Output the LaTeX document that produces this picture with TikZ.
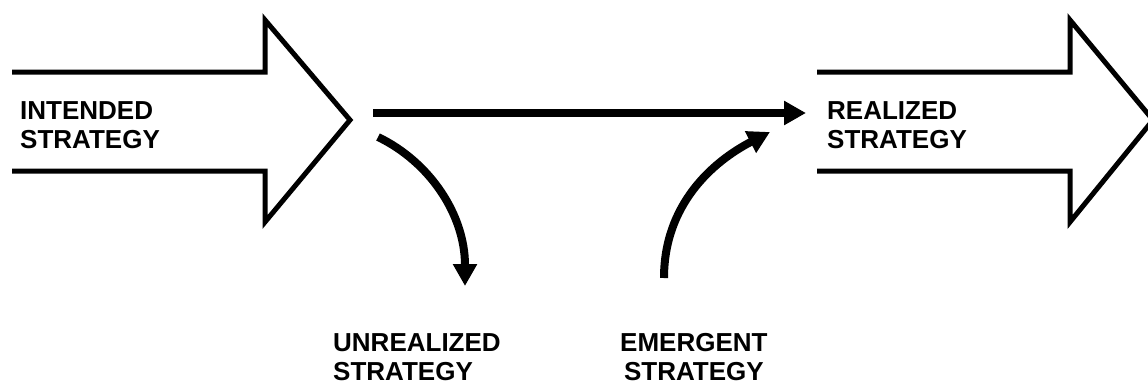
\documentclass[tikz,border=0pt]{standalone}
\usepackage{fontspec}
\setmainfont{Liberation Sans}
\usepackage{tikz}
\usetikzlibrary{calc}
\usetikzlibrary{arrows.meta}

\begin{document}
\begin{tikzpicture}[x=1pt,y=-1pt,>={Triangle[length=22pt,width=23pt]}]
	\tikzset{big/.style={line width=5pt, line join=miter},
		flow/.style={->, line width=8pt},
		lab/.style={font=\fontsize{26}{29}\selectfont\bfseries, inner sep=0pt, anchor=north west}}
	\pgfmathsetmacro{\Yt}{72};
	\pgfmathsetmacro{\Yb}{171};
	\pgfmathsetmacro{\Ym}{120};
	\useasboundingbox (0,0) rectangle (1148,383);
	\coordinate (S) at (373,113);
	\coordinate (R) at (806,113);
	\coordinate (U1) at (378,137);
	\coordinate (U2) at (465,286);
	\coordinate (E1) at (664,278);
	\coordinate (E2) at (770,132);
	
	\draw[big] (12,\Yt) -- (265,\Yt) -- (265,20) -- (350,\Ym) -- (265,222) -- (265,\Yb) -- (12,\Yb) ;
	\draw[big] (817,\Yt) -- (1070,\Yt) -- (1070,20) -- (1153,\Ym) -- (1070,222) -- (1070,\Yb) -- (817,\Yb) ;
	\node (I) at (20,101)[lab,align=left] {INTENDED\\STRATEGY};
	\node (Z) at (827,101)[lab,align=left] {REALIZED\\STRATEGY};
	\node (N) at (333,333)[lab,align=left] {UNREALIZED\\STRATEGY};
	\node (M) at (620,333)[lab,align=center] {EMERGENT\\STRATEGY};
	
	\draw[flow] (S) -- (R) ;
	\draw[flow] (U1) .. controls (430,162) and (465,215) .. (U2) ;
	\draw[flow] (E1) .. controls (664,205) and (712,162) .. (E2) ;
\end{tikzpicture}
\end{document}
